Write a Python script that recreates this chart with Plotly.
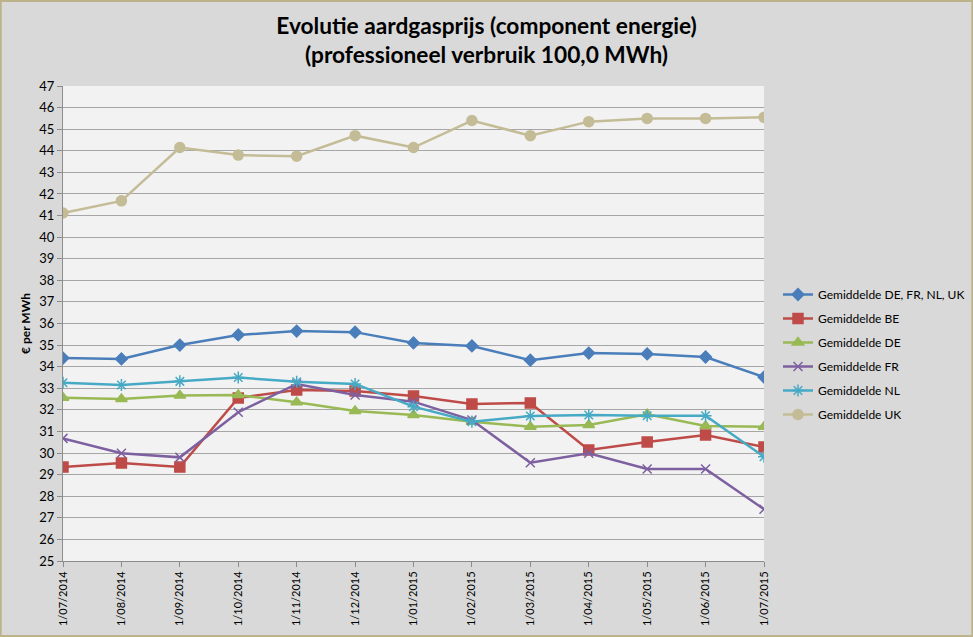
import plotly.graph_objects as go

dates = ["1/07/2014", "1/08/2014", "1/09/2014", "1/10/2014", "1/11/2014", "1/12/2014",
         "1/01/2015", "1/02/2015", "1/03/2015", "1/04/2015", "1/05/2015", "1/06/2015", "1/07/2015"]

gem_all = [34.40, 34.36, 35.00, 35.47, 35.65, 35.60, 35.10, 34.96, 34.30, 34.63, 34.59, 34.45, 33.52]
gem_be = [29.35, 29.54, 29.35, 32.55, 32.92, 32.87, 32.64, 32.27, 32.32, 30.14, 30.51, 30.84, 30.28]
gem_de = [32.56, 32.50, 32.67, 32.69, 32.35, 31.95, 31.76, 31.45, 31.22, 31.30, 31.80, 31.25, 31.22]
gem_fr = [30.68, 29.99, 29.80, 31.89, 33.20, 32.69, 32.38, 31.53, 29.55, 29.99, 29.26, 29.26, 27.40]
gem_nl = [33.26, 33.15, 33.32, 33.50, 33.30, 33.20, 32.15, 31.45, 31.72, 31.76, 31.73, 31.73, 29.83]
gem_uk = [41.12, 41.68, 44.15, 43.80, 43.75, 44.70, 44.15, 45.40, 44.70, 45.35, 45.50, 45.50, 45.55]

series = [
    ("Gemiddelde DE, FR, NL, UK", gem_all, "#4A7EBB", "diamond", 9),
    ("Gemiddelde BE", gem_be, "#BE4B48", "square", 10),
    ("Gemiddelde DE", gem_de, "#98B954", "triangle-up", 10),
    ("Gemiddelde FR", gem_fr, "#7D60A0", "x-thin-open", 9),
    ("Gemiddelde NL", gem_nl, "#46AAC5", "asterisk-open", 10),
    ("Gemiddelde UK", gem_uk, "#C4BC96", "circle", 10),
]

font = "Lato, Open Sans, sans-serif"

fig = go.Figure()
for i, (name, vals, col, sym, sz) in enumerate(series):
    fig.add_trace(go.Scatter(
        x=list(range(len(dates))), y=vals, name=name, mode="lines+markers",
        line=dict(color=col, width=2.5),
        marker=dict(symbol=sym, size=sz, color=col, line=dict(color=col, width=1.5)),
        legendgroup="g%d" % i,
    ))

fig.update_layout(
    width=973, height=637, autosize=False,
    margin=dict(l=63, r=209, t=86, b=76, autoexpand=False),
    paper_bgcolor="#D9D9D9", plot_bgcolor="#F2F2F2",
    font=dict(family=font, size=12, color="#000000"),
    title=dict(
        text="<b>Evolutie aardgasprijs (component energie)<br>(professioneel verbruik 100,0 MWh)</b>",
        x=0.5, xref="container", xanchor="center", y=0.947, yanchor="top",
        font=dict(family=font, size=22.7, color="#000000"),
    ),
    showlegend=True,
    legend=dict(
        xref="container", yref="container",
        x=778/973, xanchor="left", y=1 - 280/637, yanchor="top",
        bgcolor="rgba(0,0,0,0)", font=dict(family=font, size=12),
        traceorder="grouped", tracegroupgap=5, itemwidth=30,
    ),
    xaxis=dict(
        tickmode="array", tickvals=list(range(len(dates))), ticktext=dates,
        range=[0, 12], tickangle=-90, showgrid=False, zeroline=False, automargin=False,
        showline=True, linecolor="#8C8C8C", linewidth=1,
        ticks="outside", ticklen=5, tickcolor="#8C8C8C",
        tickfont=dict(family=font, size=11, color="#000000"),
    ),
    yaxis=dict(
        range=[25, 47], dtick=1, tick0=25, showgrid=True, gridcolor="#A6A6A6", gridwidth=1,
        zeroline=False, showline=True, linecolor="#8C8C8C", linewidth=1, automargin=False,
        ticks="outside", ticklen=5, tickcolor="#8C8C8C",
        tickfont=dict(family=font, size=13, color="#000000"),
        title=dict(text="<b>€ per MWh</b>", font=dict(family=font, size=12), standoff=6),
    ),
)

fig.add_shape(type="rect", xref="paper", yref="paper",
              x0=-63/701 + 0.001, x1=(973-63)/701 - 0.001,
              y0=(561-637)/475 + 0.002, y1=561/475 - 0.002,
              line=dict(color="#BDB38A", width=2), fillcolor="rgba(0,0,0,0)", layer="below")

fig.write_html("out.html", config={"responsive": False, "displayModeBar": False},
               post_script="document.body.style.margin='0';document.body.style.overflow='hidden';")
